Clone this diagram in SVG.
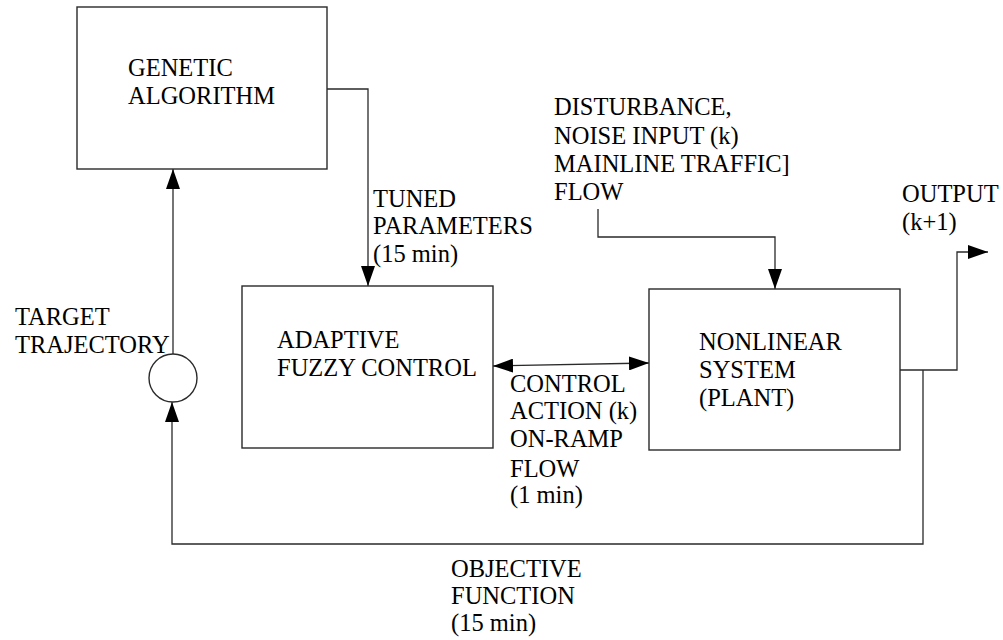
<svg xmlns="http://www.w3.org/2000/svg" width="1003" height="640" viewBox="0 0 1003 640">
<defs>
<style>
.box{fill:#fff;stroke:#2a2a2a;stroke-width:1.4}
.ln{fill:none;stroke:#2a2a2a;stroke-width:1.3}
text{font-family:'Liberation Serif','Times New Roman',serif;font-size:24.5px;fill:#000}
</style>
<marker id="ah" viewBox="0 0 20 14" refX="20" refY="7" markerWidth="20" markerHeight="14" markerUnits="userSpaceOnUse" orient="auto-start-reverse">
<path d="M0,0 L20,7 L0,14 Z" fill="#000"/>
</marker>
</defs>
<rect width="1003" height="640" fill="#fff"/>
<g id="connectors">
<path class="ln" d="M327,89 H368 V286" marker-end="url(#ah)"/>
<path class="ln" d="M173,354 V169" marker-end="url(#ah)"/>
<path class="ln" d="M923,370 V544 H172 V402" marker-end="url(#ah)"/>
<path class="ln" d="M493,366 L649,363" marker-start="url(#ah)" marker-end="url(#ah)"/>
<path class="ln" d="M598,209 V237 H775 V289" marker-end="url(#ah)"/>
<path class="ln" d="M900,370 H957 V252 H988" marker-end="url(#ah)"/>
</g>
<g id="genetic">
<rect class="box" x="77" y="7" width="250" height="162"/>
<text x="128" y="76">GENETIC</text>
<text x="128" y="104">ALGORITHM</text>
</g>
<g id="adaptive">
<rect class="box" x="242" y="286" width="251" height="162"/>
<text x="277" y="348">ADAPTIVE</text>
<text x="277" y="376">FUZZY CONTROL</text>
</g>
<g id="plant">
<rect class="box" x="649" y="289" width="251" height="161"/>
<text x="699" y="350">NONLINEAR</text>
<text x="699" y="378">SYSTEM</text>
<text x="699" y="406">(PLANT)</text>
</g>
<g id="sum">
<circle class="box" cx="173" cy="378" r="24"/>
</g>
<g id="labels">
<text x="373" y="207">TUNED</text>
<text x="373" y="234">PARAMETERS</text>
<text x="373" y="262">(15 min)</text>
<text x="15" y="325">TARGET</text>
<text x="15" y="353">TRAJECTORY</text>
<text x="554" y="115">DISTURBANCE,</text>
<text x="554" y="144">NOISE INPUT (k)</text>
<text x="554" y="172">MAINLINE TRAFFIC]</text>
<text x="554" y="200">FLOW</text>
<text x="902" y="202">OUTPUT</text>
<text x="902" y="230">(k+1)</text>
<text x="510" y="392">CONTROL</text>
<text x="510" y="419">ACTION (k)</text>
<text x="510" y="447">ON-RAMP</text>
<text x="510" y="477">FLOW</text>
<text x="510" y="503">(1 min)</text>
<text x="451" y="577">OBJECTIVE</text>
<text x="451" y="604">FUNCTION</text>
<text x="451" y="631">(15 min)</text>
</g>
</svg>
